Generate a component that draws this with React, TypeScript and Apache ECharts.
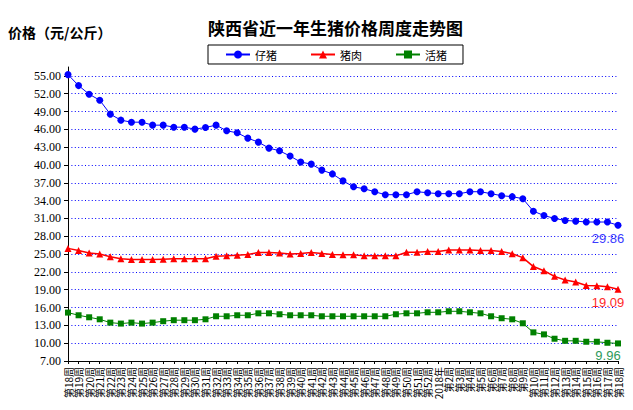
import React, { useEffect, useRef } from "react";
import * as echarts from "echarts";

const categories: string[] = [
  "第18周", "第19周", "第20周", "第21周", "第22周", "第23周", "第24周", "第25周", "第26周", "第27周",
  "第28周", "第29周", "第30周", "第31周", "第32周", "第33周", "第34周", "第35周", "第36周", "第37周",
  "第38周", "第39周", "第40周", "第41周", "第42周", "第43周", "第44周", "第45周", "第46周", "第47周",
  "第48周", "第49周", "第50周", "第51周", "第52周", "2018年", "第2周", "第3周", "第4周", "第5周",
  "第6周", "第7周", "第8周", "第9周", "第10周", "第11周", "第12周", "第13周", "第14周", "第15周",
  "第16周", "第17周", "第18周",
];

const pigletPrices: number[] = [
  55.22, 53.37, 51.92, 50.91, 48.56, 47.55, 47.21, 47.21, 46.71, 46.71,
  46.37, 46.37, 46.04, 46.32, 46.71, 45.76, 45.42, 44.52, 43.85, 42.84,
  42.39, 41.5, 40.49, 40.15, 39.14, 38.5, 37.33, 36.33, 36.0, 35.5,
  35.0, 35.0, 35.0, 35.5, 35.33, 35.17, 35.17, 35.17, 35.5, 35.5,
  35.17, 34.83, 34.67, 34.33, 32.22, 31.5, 31.0, 30.67, 30.55, 30.4,
  30.4, 30.4, 29.86,
];

const porkPrices: number[] = [
  25.96, 25.6, 25.2, 25.0, 24.55, 24.2, 24.1, 24.1, 24.1, 24.15,
  24.2, 24.2, 24.2, 24.2, 24.65, 24.7, 24.8, 24.95, 25.25, 25.25,
  25.2, 25.0, 25.1, 25.25, 25.1, 24.95, 24.9, 24.9, 24.7, 24.7,
  24.7, 24.7, 25.3, 25.3, 25.45, 25.45, 25.7, 25.7, 25.7, 25.6,
  25.6, 25.45, 25.05, 24.4, 22.9, 22.2, 21.25, 20.65, 20.3, 19.7,
  19.65, 19.5, 19.09,
];

const livePigPrices: number[] = [
  15.15, 14.7, 14.36, 14.02, 13.46, 13.3, 13.46, 13.3, 13.46, 13.7,
  13.87, 13.87, 13.87, 14.02, 14.53, 14.53, 14.7, 14.7, 15.03, 15.03,
  14.87, 14.7, 14.7, 14.7, 14.53, 14.53, 14.53, 14.53, 14.53, 14.53,
  14.53, 14.87, 15.03, 15.03, 15.2, 15.2, 15.37, 15.37, 15.2, 15.03,
  14.53, 14.2, 14.02, 13.35, 11.82, 11.48, 10.75, 10.4, 10.4, 10.24,
  10.24, 10.07, 9.96,
];

const seriesNames: string[] = ["仔猪", "猪肉", "活猪"];
const yMin = 7;
const yMax = 56.5;
const yStep = 3;
const yLastLabel = 55;

const CJK = '"Noto Sans CJK SC", sans-serif';

function withLastLabel(values: number[], color: string) {
  const last = values.length - 1;
  return values.map((v, i) =>
    i === last
      ? {
          value: v,
          label: {
            show: true,
            position: "bottom",
            distance: 3,
            offset: [-10, 0],
            color,
            fontSize: 13,
            fontFamily: '"Liberation Sans", sans-serif',
            formatter: (p: any) => Number(p.value).toFixed(2),
          },
        }
      : v
  );
}

export default function App() {
  const ref = useRef<HTMLDivElement>(null);
  useEffect(() => {
    if (!ref.current) return;
    const chart = echarts.init(ref.current, null, { renderer: "svg" });
    chart.setOption({
      animation: false,
      backgroundColor: "#ffffff",
      title: [
        {
          text: "陕西省近一年生猪价格周度走势图",
          left: 208,
          top: 19,
          padding: 0,
          textStyle: { fontSize: 17, fontWeight: "bold", color: "#000", fontFamily: CJK },
        },
        {
          text: "价格（元/公斤）",
          left: 8,
          top: 25,
          padding: 0,
          textStyle: { fontSize: 14, fontWeight: "bold", color: "#000", fontFamily: CJK },
        },
      ],
      legend: {
        data: seriesNames,
        left: 208,
        top: 45,
        padding: [4, 16, 4, 17],
        itemWidth: 24,
        itemHeight: 10,
        itemGap: 33,
        borderColor: "#000",
        borderWidth: 1,
        textStyle: { fontSize: 11, color: "#000", fontFamily: CJK },
      },
      grid: { left: 68, right: 15, top: 67, bottom: 49, containLabel: false },
      xAxis: {
        type: "category",
        data: categories,
        boundaryGap: false,
        axisLine: { lineStyle: { color: "#000", width: 1 } },
        axisTick: { show: true, length: 3, interval: 0, lineStyle: { color: "#000" } },
        axisLabel: {
          interval: 0,
          rotate: 90,
          margin: 6,
          fontSize: 10,
          color: "#000",
          fontFamily: CJK,
        },
        splitLine: { show: false },
      },
      yAxis: {
        type: "value",
        min: yMin,
        max: yMax,
        interval: yStep,
        axisLine: { show: true, lineStyle: { color: "#000", width: 1 } },
        axisTick: { show: true, length: 4, lineStyle: { color: "#000" } },
        axisLabel: {
          showMaxLabel: false,
          margin: 7,
          fontSize: 12,
          color: "#000",
          fontFamily: '"Liberation Serif", serif',
          formatter: (v: number) =>
            v <= yLastLabel && Math.abs(((v - yMin) / yStep) - Math.round((v - yMin) / yStep)) < 1e-6
              ? v.toFixed(2)
              : "",
        },
        splitLine: {
          show: true,
          showMinLine: false,
          showMaxLine: false,
          lineStyle: { color: "#0000ff", width: 1, type: [1, 2.4] },
        },
      },
      series: [
        {
          name: seriesNames[0],
          type: "line",
          data: withLastLabel(pigletPrices, "#3a3aff"),
          symbol: "circle",
          symbolSize: 7,
          itemStyle: { color: "#0000ff" },
          lineStyle: { color: "#0000ff", width: 1 },
        },
        {
          name: seriesNames[1],
          type: "line",
          data: withLastLabel(porkPrices, "#ff2a2a"),
          symbol: "triangle",
          symbolSize: 7,
          itemStyle: { color: "#ff0000" },
          lineStyle: { color: "#ff0000", width: 1.5 },
        },
        {
          name: seriesNames[2],
          type: "line",
          data: withLastLabel(livePigPrices, "#2e9a5a"),
          symbol: "rect",
          symbolSize: 6,
          itemStyle: { color: "#008000" },
          lineStyle: { color: "#008000", width: 1 },
        },
      ],
    });
    return () => chart.dispose();
  }, []);
  return (
    <div
      ref={ref}
      style={{ position: "fixed", left: 0, top: 0, width: 633, height: 410, background: "#fff" }}
    />
  );
}
